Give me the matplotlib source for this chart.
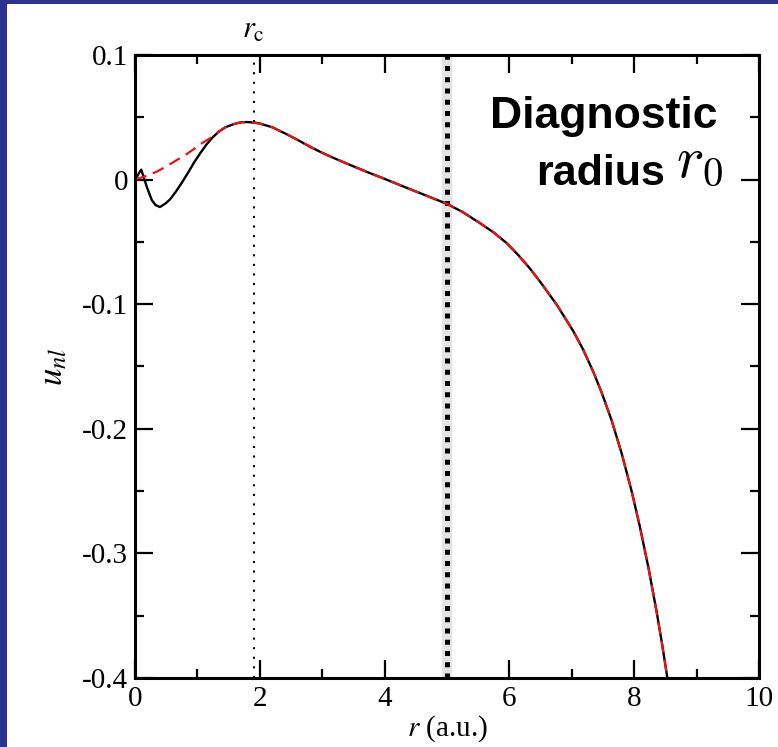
import matplotlib
matplotlib.use("Agg")
import matplotlib.pyplot as plt
from matplotlib.patches import Rectangle
from matplotlib.ticker import FixedLocator

# All-electron radial function (black, solid)
ae_r = [0.0, 0.05, 0.10, 0.19, 0.27, 0.33, 0.40, 0.48, 0.56, 0.65, 0.75, 0.85,
        0.95, 1.05, 1.15, 1.25, 1.35, 1.45, 1.58, 1.70, 1.80, 1.90, 2.0, 2.2,
        2.4, 2.6, 2.8, 3.0, 3.2, 3.45, 3.7, 3.98, 4.25, 4.51, 4.75, 5.0, 5.25,
        5.53, 5.75, 5.96, 6.15, 6.33, 6.49, 6.76, 7.02, 7.18, 7.35, 7.48, 7.64,
        7.80, 7.96, 8.09, 8.23, 8.36, 8.44, 8.52, 8.56]
ae_u = [0.0, 0.004, 0.008, -0.006, -0.0165, -0.0205, -0.0220, -0.0195, -0.0160,
        -0.0100, -0.0025, 0.0055, 0.0140, 0.0215, 0.0285, 0.0342, 0.0388,
        0.0420, 0.0445, 0.0460, 0.0462, 0.0458, 0.0450, 0.0420, 0.0372,
        0.0320, 0.0265, 0.0215, 0.0170, 0.0117, 0.0065, 0.0010, -0.0045,
        -0.0097, -0.0145, -0.0195, -0.0260, -0.0350, -0.0425, -0.0511,
        -0.0610, -0.0714, -0.0818, -0.1005, -0.1213, -0.1362, -0.1549,
        -0.1711, -0.1935, -0.2199, -0.2503, -0.2783, -0.3119, -0.3470,
        -0.3706, -0.3962, -0.4090]

# Pseudo radial function (red, dashed): smooth core, identical tail
ps_core_r = [0.0, 0.15, 0.35, 0.50, 0.67, 0.80, 0.93, 1.05, 1.20]
ps_core_u = [0.0, 0.0025, 0.0064, 0.0105, 0.0157, 0.0195, 0.0240, 0.0285, 0.0331]
tail_start = 16  # index in ae_r where both functions coincide (r = 1.35)
ps_r = ps_core_r + ae_r[tail_start:]
ps_u = ps_core_u + ae_u[tail_start:]

r_c = 1.9
r_0 = 5.0

x_ticks = [0, 2, 4, 6, 8, 10]
x_tick_labels = ["0", "2", "4", "6", "8", "10"]
x_minor = [1, 3, 5, 7, 9]
y_ticks = [-0.4, -0.3, -0.2, -0.1, 0.0, 0.1]
y_tick_labels = ["-0.4", "-0.3", "-0.2", "-0.1", "0", "0.1"]
y_minor = [-0.35, -0.25, -0.15, -0.05, 0.05]

W, H = 778, 747
fig = plt.figure(figsize=(W / 100, H / 100), dpi=100, facecolor="#2c3290")
fig.patches.append(Rectangle((7 / W, 0), 1, (H - 4) / H, transform=fig.transFigure,
                             facecolor="white", edgecolor="none", zorder=-1))

ax = fig.add_axes([135 / W, 69 / H, 624 / W, 623 / H])
ax.set_xlim(0, 10)
ax.set_ylim(-0.4, 0.1)

serif = "Liberation Serif"

# marker lines at r_c and r_0
ax.axvline(r_c, color="black", lw=1.5, linestyle=(0, (1, 3.6)), zorder=2)
ax.axvline(r_0, color="#e4e4e4", lw=7.5, zorder=2, solid_capstyle="butt")
ax.axvline(r_0, color="black", lw=3.6, linestyle=(0, (1, 1.25)), zorder=3)

ax.plot(ae_r, ae_u, color="black", lw=1.7, zorder=4, solid_joinstyle="round")
ax.plot(ps_r, ps_u, color="#ee1111", lw=1.6, dashes=(5.4, 3.1), zorder=5)

for s in ax.spines.values():
    s.set_linewidth(2.2)
    s.set_zorder(6)

ax.xaxis.set_major_locator(FixedLocator(x_ticks))
ax.xaxis.set_minor_locator(FixedLocator(x_minor))
ax.yaxis.set_major_locator(FixedLocator(y_ticks))
ax.yaxis.set_minor_locator(FixedLocator(y_minor))
ax.set_xticklabels(x_tick_labels, fontfamily=serif, fontsize=21)
ax.set_yticklabels(y_tick_labels, fontfamily=serif, fontsize=21)
ax.tick_params(which="both", direction="in", top=True, right=True, width=1.6,
               color="black")
ax.tick_params(which="major", length=13)
ax.tick_params(which="minor", length=6.5)
ax.tick_params(axis="x", pad=6)
ax.tick_params(axis="y", pad=5)

ax.text(0.5, -0.056, "$r$ (a.u.)", transform=ax.transAxes, ha="center", va="top",
        fontfamily=serif, fontsize=21, math_fontfamily="stix")
ax.text(-0.133, 0.5, "$u_{nl}$", transform=ax.transAxes, ha="center", va="center",
        rotation=90, fontsize=25, math_fontfamily="stix")
ax.text(r_c, 1.017, r"$r_{\rm c}$", transform=ax.get_xaxis_transform(),
        ha="center", va="bottom", fontsize=22, math_fontfamily="stix")

ax.text(9.34, 0.0414, "Diagnostic", ha="right", va="baseline",
        fontfamily="Liberation Sans", fontweight="bold", fontsize=32, zorder=7)
ax.text(8.49, -0.0043, "radius", ha="right", va="baseline",
        fontfamily="Liberation Sans", fontweight="bold", fontsize=31, zorder=7)
ax.text(8.67, 0.0021, "$r_0$", ha="left", va="baseline", fontsize=42,
        math_fontfamily="cm", zorder=7)

fig.savefig("out.png", dpi=100, facecolor=fig.get_facecolor())
